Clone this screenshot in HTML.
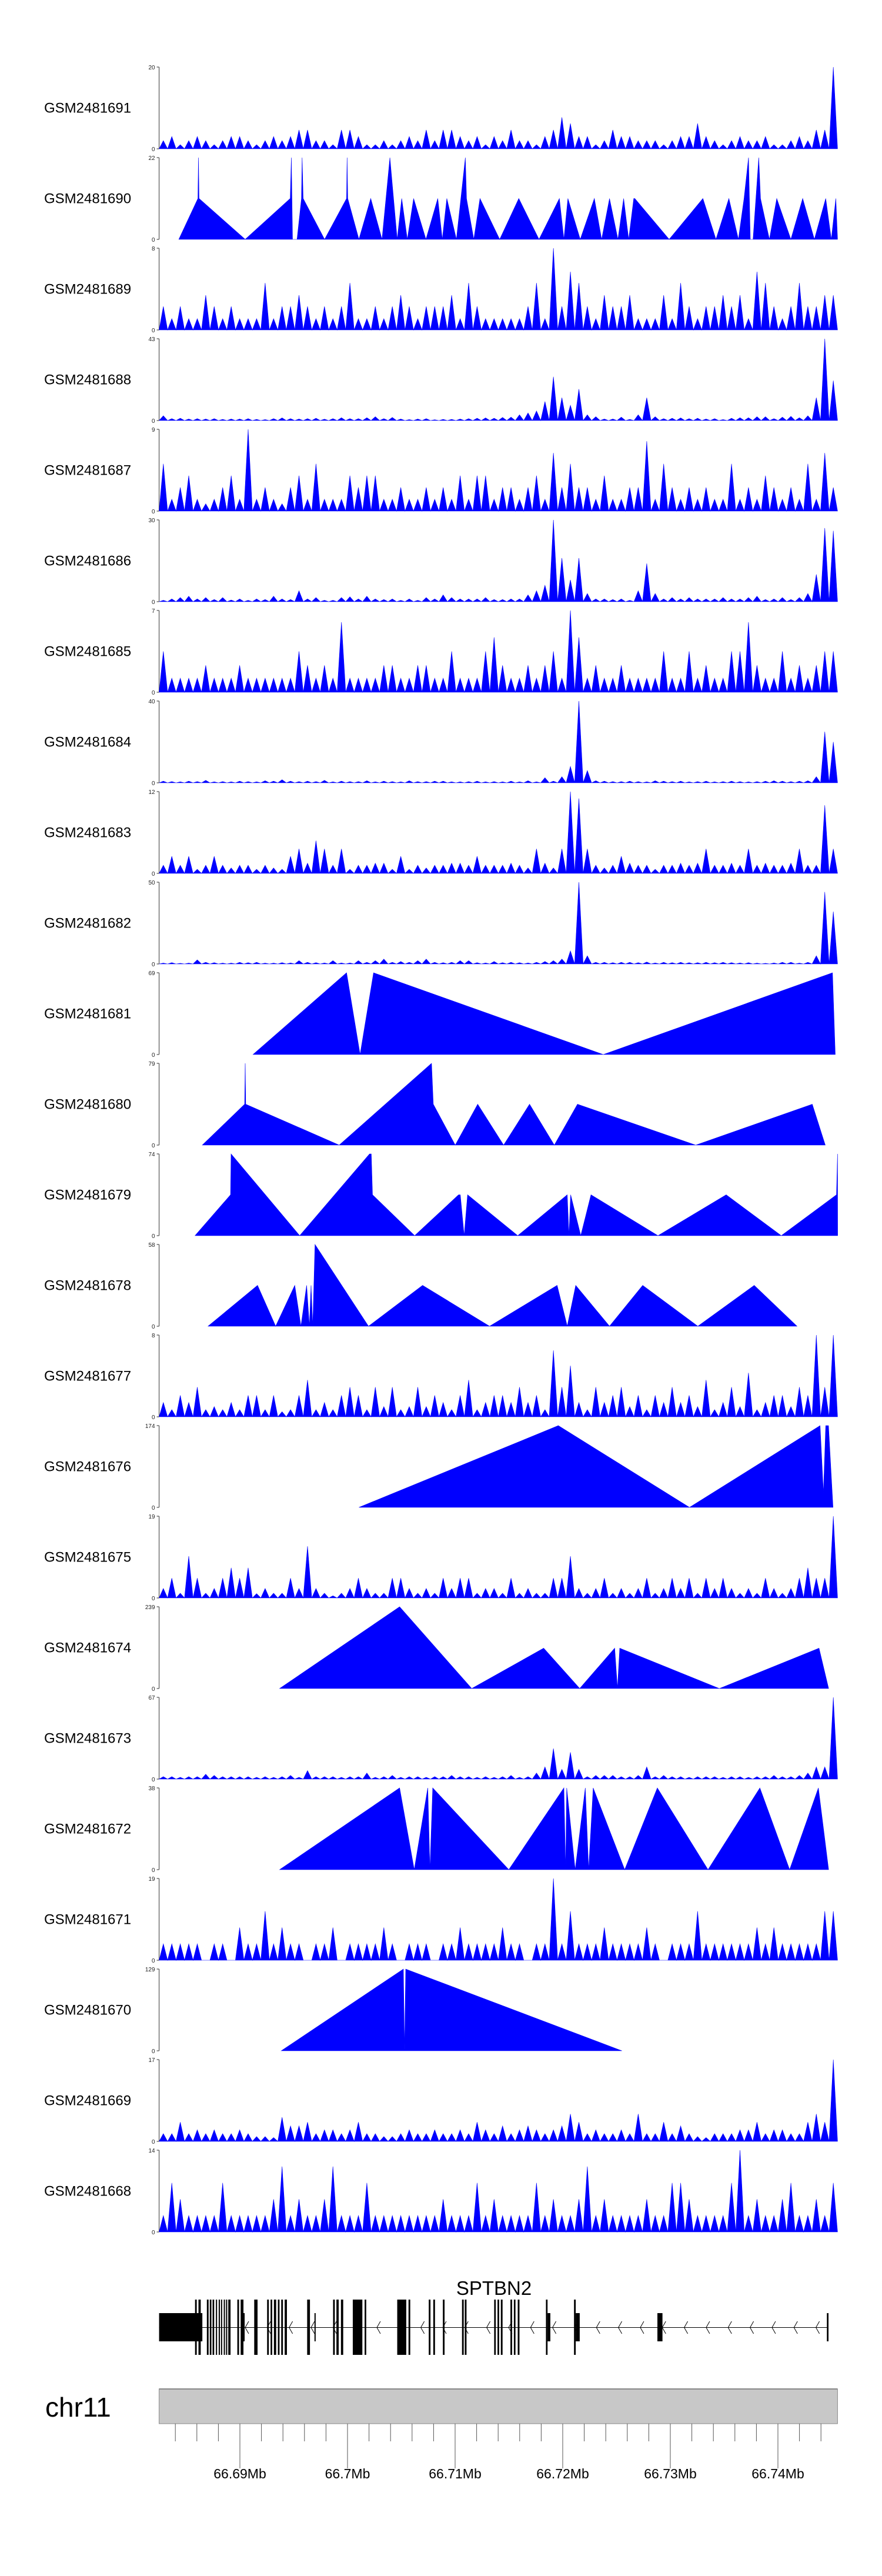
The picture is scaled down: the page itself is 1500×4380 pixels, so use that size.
<!DOCTYPE html>
<html><head><meta charset="utf-8"><style>
html,body{margin:0;padding:0;background:#fff;}
svg{display:block;font-family:"Liberation Sans",Arial,sans-serif;}
</style></head><body>
<svg id="chart" width="1500" height="4380" viewBox="0 0 1500 4380" xmlns="http://www.w3.org/2000/svg">
<rect width="1500" height="4380" fill="#fff"/>
<g id="tracks"></g>
<g id="gene"></g>
<g id="ideo"></g>
</svg>
<script>
// ---- track names & y maxima ----
const trackNames = ["GSM2481691","GSM2481690","GSM2481689","GSM2481688","GSM2481687","GSM2481686","GSM2481685","GSM2481684","GSM2481683","GSM2481682","GSM2481681","GSM2481680","GSM2481679","GSM2481678","GSM2481677","GSM2481676","GSM2481675","GSM2481674","GSM2481673","GSM2481672","GSM2481671","GSM2481670","GSM2481669","GSM2481668"];
const trackMax = [20,22,8,43,9,30,7,40,12,50,69,79,74,58,8,174,19,239,67,38,19,129,17,14];

// ---- binned coverage (80 bins across region) ----
const vals_1691 = [2,3,1,2,3,2,1,2,3,3,2,1,2,3,2,3,4.6,4.6,2,2,1,4.6,4.6,3,1,1,2,1,2,3,2,4.6,2,4.6,4.6,3,2,3,1,3,2,4.6,2,2,1,3,4.6,7.7,6.2,3,3,1,2,4.6,3,3,2,2,2,1,2,3,3,6.2,3,2,1,2,3,2,2,3,1,1,2,3,2,4.6,4.6,20];
const vals_1689 = [2.3,1.1,2.3,1.1,1.1,3.4,2.3,1.1,2.3,1.1,1.1,1.1,4.6,1.1,2.3,2.3,3.4,2.3,1.1,2.3,1.1,2.3,4.6,1.1,1.1,2.3,1.1,2.3,3.4,2.3,1.1,2.3,2.3,2.3,3.4,1.1,4.6,2.3,1.1,1.1,1.1,1.1,1.1,2.3,4.6,1.1,8,2.3,5.7,4.6,2.3,1.1,3.4,2.3,2.3,3.4,1.1,1.1,1.1,3.4,1.1,4.6,2.3,1.1,2.3,2.3,3.4,2.3,3.4,1.1,5.7,4.6,2.3,1.1,2.3,4.6,2.3,2.3,3.4,3.4];
const vals_1688 = [2.5,1,1.2,0.8,1,0.8,1,0.6,0.8,0.8,1,0.6,0.5,1,1.4,1,0.8,1,1.2,0.7,1,1.5,1,1,1.5,2,1,1.6,0.8,0.5,0.8,1,0.4,0.6,0.6,0.8,1,1.2,1.4,1.2,1.6,1.8,3,4,5,10,23,12,8,16.5,3,2,0.8,0.8,1.8,0.6,3,12,2,1,1.2,1.4,1,1.2,0.8,1,0.5,1.2,1.5,1.5,2,2,1,1.8,2.2,1.5,2.5,12,43,21];
const vals_1687 = [5.2,1.3,2.6,3.9,1.3,0.8,1.3,2.6,3.9,1.3,9,1.3,2.6,1.3,0.8,2.6,3.9,1.3,5.2,1.3,1.3,1.3,3.9,2.6,3.9,3.9,1.3,1.3,2.6,1.3,1.3,2.6,1.3,2.6,1.3,3.9,1.3,3.9,3.9,1.3,2.6,2.6,1.3,2.6,3.9,1.3,6.4,2.6,5.2,2.6,2.6,1.3,3.9,1.3,1.3,2.6,2.6,7.7,1.3,5.2,2.6,1.3,2.6,1.3,2.6,1.3,1.3,5.2,1.3,2.6,1.3,3.9,2.6,1.3,2.6,1.3,5.2,1.3,6.4,2.6];
const vals_1686 = [0.5,1,1.5,2,1,1.5,0.8,1.5,0.6,1,0.5,1,0.8,2,1,0.8,4,1,1.5,0.5,0.5,1.5,1.8,1,2,1,0.8,1,0.5,1,0.5,1.5,1,2.5,1.5,1,1,1,1.5,0.8,0.8,1,1,2.5,4,6,30,16,8,16,3,1,1,0.8,1,0.5,4,14,3,1,1.5,1,1.5,1,1,1,1.5,1,1,1.5,2,0.8,1,1.5,0.8,1.5,3,10,27,26];
const vals_1685 = [3.5,1.2,1.2,1.2,1.2,2.3,1.2,1.2,1.2,2.3,1.2,1.2,1.2,1.2,1.2,1.2,3.5,2.3,1.2,2.3,1.2,6,1.2,1.2,1.2,1.2,2.3,2.3,1.2,1.2,2.3,2.3,1.2,1.2,3.5,1.2,1.2,1.2,3.5,4.7,2.3,1.2,1.2,2.3,1.2,2.3,3.5,1.2,7,4.7,1.2,2.3,1.2,1.2,2.3,1.2,1.2,1.2,1.2,3.5,1.2,1.2,3.5,1.2,2.3,1.2,1.2,3.5,3.5,6,2.3,1.2,1.2,3.5,1.2,2.3,1.2,2.3,3.5,3.5];
const vals_1684 = [0.8,0.6,0.5,0.8,0.6,1.2,0.5,0.6,0.5,0.8,0.6,0.5,1,0.8,1.5,0.8,0.6,0.8,0.6,1.2,0.5,0.8,0.6,0.6,1,0.5,0.8,0.6,0.5,1,0.6,0.6,0.8,0.8,0.5,0.5,0.6,0.8,0.5,0.6,0.5,0.8,0.5,1,0.5,2.5,0.8,3,8,40,6,1,0.8,0.6,0.6,0.8,0.6,0.5,1,0.8,0.6,0.8,0.5,0.6,0.8,0.5,0.6,0.8,0.6,0.5,0.6,0.8,1,0.8,0.6,0.8,1,3,25,20];
const vals_1683 = [1.2,2.5,1.2,2.5,0.6,1.2,2.5,1.2,0.8,1.2,1.2,0.6,1.2,0.8,0.6,2.5,3.6,1.5,4.8,3.6,1.2,3.6,0.6,1.2,1.2,1.5,1.5,0.6,2.5,0.6,1.2,0.8,1.2,1.2,1.5,1.5,1.2,2.5,1.2,1.2,1.2,1.5,1.2,0.8,3.6,1.5,0.8,3.6,12,11,3.6,1.2,0.8,1.2,2.5,1.5,1.2,1.2,0.6,1.2,1.2,1.5,1.2,1.5,3.6,1.2,1.2,1.5,1.2,3.6,1.2,1.5,1.2,1.2,1.5,3.6,1.2,1.2,10,3.6];
const vals_1682 = [0.5,0.8,0.4,0.5,2.5,1,0.8,0.5,0.5,1,0.8,1,0.5,0.5,0.8,0.6,2,1,0.8,0.6,2,0.6,0.6,2,1,2,3,1,1.5,1,2,3,1,0.8,1,2,2,0.8,0.6,1.5,0.8,1,0.8,0.6,1,1.5,2,3,8,50,5,1,1,0.8,1,1,0.8,1.2,0.6,1,0.8,1,0.8,0.8,1,0.8,1,0.8,0.6,0.8,0.5,0.4,0.6,1,1,0.5,1,5,44,32];
const vals_1677 = [1.4,0.7,2.1,1.4,2.9,0.7,1,0.7,1.4,0.7,2.1,2.1,0.7,2.1,0.5,0.7,2.1,3.6,0.7,1.4,0.7,2.1,2.9,2.1,0.7,2.9,1,2.9,0.7,1,2.9,1,2.1,1.4,0.7,2.1,3.6,0.7,1.4,2.1,2.1,1.4,2.9,1.4,2.1,0.7,6.5,2.9,5,1.4,0.7,2.9,1.4,2.1,2.9,1,2.1,0.7,2.1,1.4,2.9,1.4,2.1,1,3.6,0.7,1.4,2.9,1,4.3,0.7,1.4,2.1,2.1,1,2.9,2.1,8,2.9,8];
const vals_1675 = [2.2,4.6,1.1,9.7,4.6,1.1,2.2,4.6,7,4.6,7,1,2.2,1.1,1.1,4.6,2.2,12,2.2,1.1,0.5,1.1,2.2,4.6,2.2,1.1,1.1,4.6,4.6,2.2,1.1,2.2,1.1,4.6,2.2,4.6,4.6,1.1,2.2,2.2,1.1,4.6,1.1,2.2,1.1,1.1,4.6,4.6,9.7,2.2,1.1,2.2,4.6,1.1,2.2,1.1,2.2,4.6,1.1,2.2,4.6,2.2,4.6,1.1,4.6,2.2,4.6,2.2,1.1,2.2,1.1,4.6,2.2,1.1,2.2,4.6,7,4.6,4.6,19];
const vals_1673 = [2,2,1.5,2,2,4,3,2,2,2,2,1.5,2,1.5,2,3,1.5,7,2,2,2,1.5,2,2,5,1.5,2,3,1.5,2,2,1.5,2,2,3,2,2,1.5,2,1.5,2,3,1.5,2,5,10,25,8,22,8,2,3,3,3,2,2,3,10,2,3,2,2,1.5,2,2,2,1.5,2,2,1.5,2,2,3,2,2,3,5,10,10,67];
const vals_1671 = [3.8,3.8,3.8,3.8,3.8,0,3.8,3.8,0,7.6,3.8,3.8,11.4,3.8,7.6,3.8,3.8,0,3.8,3.8,7.6,0,3.8,3.8,3.8,3.8,7.6,3.8,0,3.8,3.8,3.8,0,3.8,3.8,7.6,3.8,3.8,3.8,3.8,7.6,3.8,3.8,0,3.8,3.8,19,3.8,11.4,3.8,3.8,3.8,7.6,3.8,3.8,3.8,3.8,7.6,3.8,0,3.8,3.8,3.8,11.4,3.8,3.8,3.8,3.8,3.8,3.8,7.6,3.8,7.6,3.8,3.8,3.8,3.8,3.8,11.4,11.4];
const vals_1669 = [1.6,1.6,4,1.6,2.4,1.6,2.4,1.6,1.6,2.4,1.6,1,1,0.8,5,3.2,3.2,4,1.6,2.4,2.4,1.6,2.4,4,1.6,1.6,1,1,1.6,2.4,1.6,1.6,2.4,1.6,1.6,2.4,1.6,4,2.4,1.6,3.2,1.6,2.4,3.2,2.4,1.6,2.4,3.2,5.7,4,1.6,2.4,1.6,1.6,2.4,1.6,5.7,1.6,1.6,4,1.6,3.2,1.6,1,0.8,1.6,1.6,1.6,2.4,2.4,4,1.6,2.4,2.4,1.6,1.6,4,5.7,4,17];
const vals_1668 = [2.8,8.4,5.6,2.8,2.8,2.8,2.8,8.4,2.8,2.8,2.8,2.8,2.8,5.6,11.2,2.8,5.6,2.8,2.8,5.6,11.2,2.8,2.8,2.8,8.4,2.8,2.8,2.8,2.8,2.8,2.8,2.8,2.8,5.6,2.8,2.8,2.8,8.4,2.8,5.6,2.8,2.8,2.8,2.8,8.4,2.8,5.6,2.8,2.8,5.6,11.2,2.8,5.6,2.8,2.8,2.8,2.8,5.6,2.8,2.8,8.4,8.4,5.6,2.8,2.8,2.8,2.8,8.4,14,2.8,5.6,2.8,2.8,5.6,8.4,2.8,2.8,5.6,2.8,8.4];

// ---- sparse tracks: positions (kb past 66.68 Mb) and values ----
const pos_1690 = [4.32,6.10,6.15,6.20,10.49,14.68,14.78,14.89,15.31,15.72,15.78,15.88,17.87,19.91,19.96,20.02,21.06,22.16,23.21,23.94,24.62,25.04,25.56,26.14,27.29,28.39,28.81,29.23,30.12,30.95,31.06,31.74,32.31,34.14,35.92,37.80,39.69,40.11,40.48,41.63,42.94,43.62,44.35,45.13,45.66,46.13,46.60,46.70,49.89,53.03,54.24,55.44,56.33,56.85,57.27,57.43,57.69,58.22,58.38,59.21,59.89,61.20,62.30,63.39,64.44,64.96,65.38,65.54];
const val_1690 = [0,11,22,11,0,11,22,0,0,11,22,11,0,11,22,11,0,11,0,22,0,11,0,11,0,11,0,11,0,22,11,0,11,0,11,0,11,0,11,0,11,0,11,0,11,0,11,11,0,11,0,11,0,11,22,0,0,22,11,0,11,0,11,0,11,0,11,0];
const pos_1681 = [11.22,19.91,21.17,22.42,43.77,65.07,65.33];
const val_1681 = [0,69,0,69,0,69,0];
const pos_1680 = [6.51,10.44,10.49,10.54,19.23,27.81,27.97,30.01,32.10,34.51,36.92,39.22,41.37,52.36,63.19,64.40];
const val_1680 = [0,39.5,79,39.5,0,79,39.5,0,39.5,0,39.5,0,39.5,0,39.5,0];
const pos_1679 = [5.83,9.13,9.18,15.56,22.05,22.21,22.32,26.24,30.32,30.48,30.84,31.16,35.82,40.42,40.58,40.74,41.68,42.63,48.85,55.19,60.31,65.44,65.54,65.55];
const val_1679 = [0,37,74,0,74,74,37,0,37,37,0,37,0,37,0,37,0,37,0,37,0,37,74,0];
const pos_1678 = [7.04,11.64,13.32,15.10,15.67,16.20,16.46,16.61,16.77,16.98,21.95,26.98,33.20,39.48,40.42,41.21,44.35,47.43,52.56,57.80,61.77];
const val_1678 = [0,29,0,29,0,29,0,29,0,58,0,29,0,29,0,29,0,29,0,29,0];
const pos_1676 = [21.06,39.59,51.78,63.92,64.23,64.44,64.70,65.12];
const val_1676 = [0,174,0,174,30,174,174,0];
const pos_1674 = [13.69,24.84,31.54,38.23,41.58,44.83,45.09,45.30,54.56,63.82,64.71];
const val_1674 = [0,239,0,118,0,118,0,118,0,118,0];
const pos_1672 = [13.69,24.84,26.20,27.46,27.66,27.92,34.99,40.11,40.27,40.37,41.16,42.10,42.41,42.83,45.76,48.79,53.50,58.32,61.09,63.76,64.71];
const val_1672 = [0,38,0,38,0,38,0,38,0,38,0,38,0,38,0,38,0,38,0,38,0];
const pos_1670 = [13.84,25.19,25.30,25.41,45.50];
const val_1670 = [0,129,0,129,0];

// ---- gene model (kb past 66.68 Mb) ----
const exonStart = [5.83,6.15,6.93,7.20,7.46,7.77,8.03,8.24,8.50,8.71,8.92,9.76,10.07,11.33,12.53,12.85,13.16,13.53,13.84,14.16,16.25,18.66,18.97,19.39,20.49,21.59,24.62,25.67,27.55,27.97,28.86,30.64,30.90,33.63,33.94,34.25,35.14,35.46,35.82,38.44,41.05];
const exonEnd   = [5.99,6.36,7.09,7.35,7.61,7.88,8.14,8.35,8.61,8.82,9.13,9.92,10.33,11.64,12.69,13.00,13.37,13.68,14.00,14.37,16.51,18.82,19.18,19.60,21.38,21.74,25.46,25.83,27.71,28.13,29.02,30.80,31.06,33.78,34.09,34.41,35.30,35.61,35.98,38.59,41.21];
const utrStart = [2.49,10.28,16.93,38.59,41.21,48.80,64.55];
const utrEnd   = [6.51,10.44,17.04,38.85,41.58,49.27,64.70];
const axisTickKb = [10,20,30,40,50,60];
const axisTickLabels = ["66.69Mb","66.7Mb","66.71Mb","66.72Mb","66.73Mb","66.74Mb"];

const NS = "http://www.w3.org/2000/svg";
const KB0 = 2.49, KB1 = 65.54;
function xScale(kb){ return 408 + (kb - 10) * 18.3; }
const X0 = xScale(KB0), X1 = xScale(KB1);
const TOP0 = 114, STEP = 154, TH = 139;
function mk(tag, attrs, parent){ const e = document.createElementNS(NS, tag); for (const k in attrs) e.setAttribute(k, attrs[k]); parent.appendChild(e); return e; }

const tracksData = {
 "GSM2481691":{v:vals_1691},"GSM2481690":{p:pos_1690,v:val_1690},"GSM2481689":{v:vals_1689},"GSM2481688":{v:vals_1688},
 "GSM2481687":{v:vals_1687},"GSM2481686":{v:vals_1686},"GSM2481685":{v:vals_1685},"GSM2481684":{v:vals_1684},
 "GSM2481683":{v:vals_1683},"GSM2481682":{v:vals_1682},"GSM2481681":{p:pos_1681,v:val_1681},"GSM2481680":{p:pos_1680,v:val_1680},
 "GSM2481679":{p:pos_1679,v:val_1679},"GSM2481678":{p:pos_1678,v:val_1678},"GSM2481677":{v:vals_1677},"GSM2481676":{p:pos_1676,v:val_1676},
 "GSM2481675":{v:vals_1675},"GSM2481674":{p:pos_1674,v:val_1674},"GSM2481673":{v:vals_1673},"GSM2481672":{p:pos_1672,v:val_1672},
 "GSM2481671":{v:vals_1671},"GSM2481670":{p:pos_1670,v:val_1670},"GSM2481669":{v:vals_1669},"GSM2481668":{v:vals_1668}
};

const gT = document.getElementById("tracks");
trackNames.forEach((name, i) => {
  const top = TOP0 + i * STEP, bot = top + TH, mx = trackMax[i];
  const yS = v => bot - v / mx * TH;
  const g = mk("g", {}, gT);
  
  
  const lab = mk("text", {x:75, y:top + TH/2 + 8, "font-size":24, fill:"#000"}, g);
  lab.textContent = name;
  
  
  const ax = mk("path", {d:`M${X0},${top}V${bot}M${X0-4},${top}H${X0}M${X0-4},${bot}H${X0}`, stroke:"#555", "stroke-width":1.2, fill:"none"}, g);
  
  
  const t1 = mk("text", {x:X0-7, y:top+4, "font-size":10, "text-anchor":"end", fill:"#222"}, g);
  t1.textContent = String(mx);
  
  
  const t0 = mk("text", {x:X0-7, y:bot+4, "font-size":10, "text-anchor":"end", fill:"#222"}, g);
  t0.textContent = "0";
  
  
  const d = tracksData[name];
  let pts = [];
  if (d.p) {
    pts.push([xScale(d.p[0]), bot]);
    d.p.forEach((kb, k) => pts.push([xScale(kb), yS(d.v[k])]));
    pts.push([xScale(d.p[d.p.length-1]), bot]);
  } else {
    const n = d.v.length, w = (KB1 - KB0) / n;
    pts.push([xScale(KB0), bot]);
    d.v.forEach((v, k) => {
      pts.push([xScale(KB0 + (k+0.5)*w), yS(v)]);
      pts.push([xScale(KB0 + (k+1)*w), bot]);
    });
  }
  const poly = mk("polygon", {points: pts.map(p => p[0].toFixed(1)+","+p[1].toFixed(1)).join(" "), fill:"#0000ff", stroke:"#0000ff", "stroke-width":0.6}, g);
  
  
});

// gene model
const gG = document.getElementById("gene");
const gname = mk("text", {x:840, y:3902, "font-size":33, "text-anchor":"middle", fill:"#000"}, gG);
gname.textContent = "SPTBN2";


const intron = mk("line", {x1:xScale(2.49), x2:xScale(64.70), y1:3957.5, y2:3957.5, stroke:"#000", "stroke-width":1}, gG);


for (let kb = 10.6; kb < 64.3; kb += 2.04) {
  const x = xScale(kb);
  const ch = mk("path", {d:`M${x+4},${3947}L${x-2},${3957.5}L${x+4},${3968}`, stroke:"#000", "stroke-width":1, fill:"none"}, gG);
  
  
}
utrStart.forEach((s, k) => {
  const r = mk("rect", {x:xScale(s), y:3933, width:Math.max(2, xScale(utrEnd[k]) - xScale(s)), height:48, fill:"#000"}, gG);
  
  
});
exonStart.forEach((s, k) => {
  const r = mk("rect", {x:xScale(s), y:3910, width:Math.max(2, xScale(exonEnd[k]) - xScale(s)), height:94, fill:"#000"}, gG);
  
  
});

// chromosome axis
const gI = document.getElementById("ideo");
const chr = mk("text", {x:77, y:4109, "font-size":46, fill:"#000"}, gI);
chr.textContent = "chr11";


const band = mk("rect", {x:X0, y:4062, width:X1-X0, height:59, fill:"#c8c8c8", stroke:"#888", "stroke-width":1}, gI);


mk("line", {x1:X0, x2:X1, y1:4062, y2:4062, stroke:"#888", "stroke-width":2}, gI);
for (let kb = 4; kb <= 64; kb += 2) {
  const x = xScale(kb);
  const major = kb % 10 === 0;
  const t = mk("line", {x1:x, x2:x, y1:4121, y2: major ? 4197 : 4151, stroke:"#555", "stroke-width":1}, gI);
  
  
}
axisTickKb.forEach((kb, k) => {
  const t = mk("text", {x:xScale(kb), y:4214, "font-size":23, "text-anchor":"middle", fill:"#000"}, gI);
  t.textContent = axisTickLabels[k];
  
  
});
</script>
</body></html>
